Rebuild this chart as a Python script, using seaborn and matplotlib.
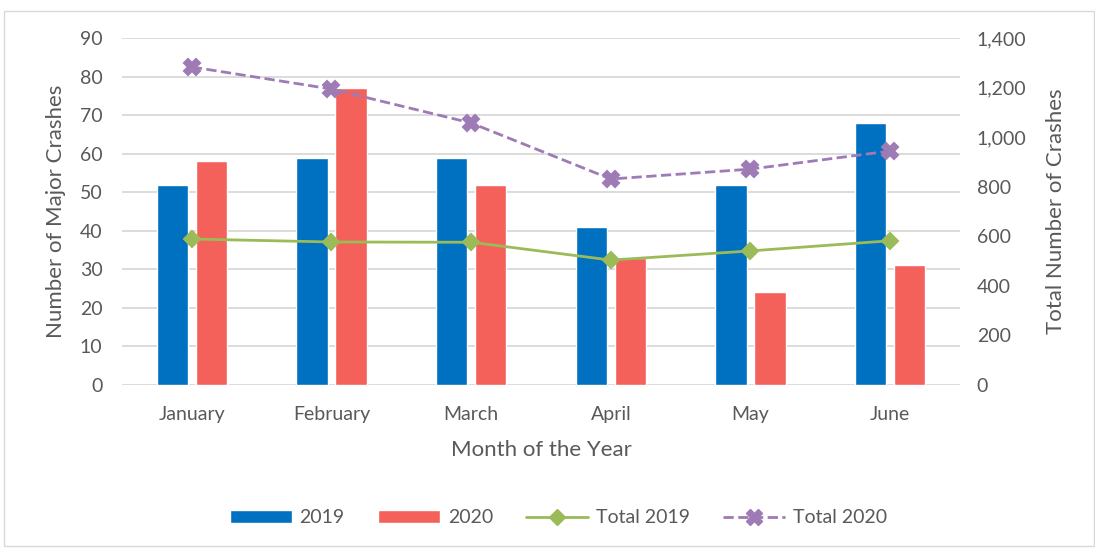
import pandas as pd
import matplotlib
matplotlib.use('Agg')
import matplotlib.pyplot as plt
import matplotlib.ticker as mticker
from matplotlib.patches import Patch, Rectangle
from matplotlib.lines import Line2D
import seaborn as sns

# --- data ---
months = ['January', 'February', 'March', 'April', 'May', 'June']
major_2019 = [52, 59, 59, 41, 52, 68]
major_2020 = [58, 77, 52, 33, 24, 31]
total_2019 = [589, 577, 576, 504, 541, 582]
total_2020 = [1283, 1194, 1057, 831, 871, 944]

df = pd.DataFrame({
    'Month': months * 2,
    'Crashes': major_2019 + major_2020,
    'Year': ['2019'] * len(months) + ['2020'] * len(months),
})

sns.set_theme(style='white')
plt.rcParams['font.family'] = ['Lato', 'DejaVu Sans']
text_col = '#595959'

fig = plt.figure(figsize=(10.95, 5.48), dpi=100)
ax = fig.add_axes([0.1114, 0.2974, 0.7653, 0.6333])

sns.barplot(data=df, x='Month', y='Crashes', hue='Year',
            palette=['#0070C0', '#F4615B'], width=0.56, gap=0.2,
            saturation=1, legend=False, ax=ax)
ax.set_ylim(0, 90)
ax.set_yticks(range(0, 91, 10))
ax.grid(axis='y', color='#d9d9d9', linewidth=1.3)
ax.set_axisbelow(True)
ax.set_xlabel('Month of the Year', fontsize=16, color=text_col, labelpad=12)
ax.set_ylabel('Number of Major Crashes', fontsize=16, color=text_col, labelpad=10)
ax.tick_params(axis='both', labelsize=14, colors=text_col, length=0)
ax.tick_params(axis='x', pad=15)
ax.tick_params(axis='y', pad=14)

ax2 = ax.twinx()
sns.pointplot(x=months, y=total_2019, color='#9BBB59', markers='D',
              linestyles='-', markersize=8, linewidth=2, ax=ax2)
sns.pointplot(x=months, y=total_2020, color='#9E7BB5', markers='X',
              linestyles='--', markersize=11, linewidth=2, ax=ax2)
ax2.set_ylim(0, 1400)
ax2.set_yticks(range(0, 1401, 200))
ax2.yaxis.set_major_formatter(mticker.StrMethodFormatter('{x:,.0f}'))
ax2.set_ylabel('Total Number of Crashes', fontsize=16, color=text_col, labelpad=14)
ax2.tick_params(axis='y', labelsize=14, colors=text_col, length=0, pad=12)
ax2.grid(False)

for a in (ax, ax2):
    for s in a.spines.values():
        s.set_visible(False)

handles = [
    Patch(facecolor='#0070C0', label='2019'),
    Patch(facecolor='#F4615B', label='2020'),
    Line2D([], [], color='#9BBB59', marker='D', markersize=8, linewidth=2, label='Total 2019'),
    Line2D([], [], color='#9E7BB5', marker='X', markersize=11, linewidth=2,
           linestyle='--', label='Total 2020'),
]
leg = fig.legend(handles=handles, loc='center', bbox_to_anchor=(0.51, 0.055),
                 ncol=4, frameon=False, fontsize=14, handlelength=3.2,
                 handleheight=0.6, columnspacing=1.7, handletextpad=0.4)
for t in leg.get_texts():
    t.set_color(text_col)

fig.patches.append(Rectangle((0.004, 0.003), 0.995, 0.977, transform=fig.transFigure,
                             fill=False, edgecolor='#d9d9d9', linewidth=1))

fig.savefig('out.png', dpi=100)
